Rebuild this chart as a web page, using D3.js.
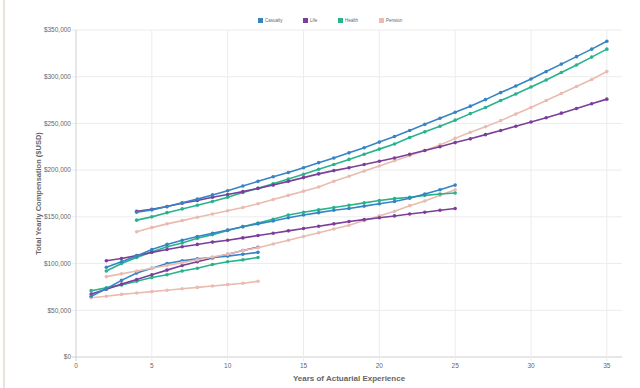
<!DOCTYPE html>
<html lang="en">
<head>
  <meta charset="UTF-8">
  <title>Total Yearly Compensation by Experience</title>
  <script src="https://d3js.org/d3.v7.min.js"></script>
  <style>
      body {
          margin: 0;
          padding: 0;
          background: #fff;
          font-family: 'Liberation Sans', Arial, sans-serif;
          overflow: hidden;
      }
      svg { display: block; }
  </style>
</head>
<body>
  <svg width="640" height="388"></svg>
  <script>
      // series names and colours
      const seriesNames = ["Casualty", "Life", "Health", "Pension"];
      const seriesColors = ["#3584c5", "#7b3f99", "#27b38c", "#e9bbb1"];

      // three career tracks, each starting at a different year
      const startYears = [1, 2, 4];

      // track A: years 1-12
      const casualtyA = [65, 73, 82, 90, 95, 100, 103, 105, 106.5, 108, 110, 112];
      const lifeA     = [67.5, 72.5, 78, 83, 88, 93, 98, 102, 106, 110, 114, 117.5];
      const healthA   = [71, 74, 77, 81, 85, 88, 92, 95, 99, 102, 104, 106.5];
      const pensionA  = [63.5, 65, 67, 68.5, 70, 71.5, 73, 74.5, 76, 77.5, 79, 81];

      // track B: years 2-25
      const casualtyB = [96, 102, 108, 115, 120.5, 125, 129, 132.5, 136, 139.5, 142.5, 145.5,
                         149, 152, 154.5, 157, 159, 161.5, 164, 166.5, 170, 174.5, 179, 184];
      const lifeB     = [103, 105.5, 108.5, 112, 115, 118, 120.5, 123, 125, 127.5, 130, 132.5,
                         135, 137.5, 140, 142.5, 145, 147, 149, 151, 153, 155, 157, 159];
      const healthB   = [92, 100, 106.5, 112.5, 118, 122, 127, 131, 135.5, 139.5, 143.5, 147.5,
                         152, 155, 157.5, 160, 162.5, 165, 167.5, 169.5, 171, 173, 174.5, 175.5];
      const pensionB  = [86, 89, 92, 95, 98, 101, 104, 107, 110, 114, 117, 121,
                         125, 129, 133, 137, 141, 146, 151, 156, 162, 167, 173, 179];

      // track C: years 4-35
      const casualtyC = [155, 157.5, 161, 165, 169, 173.5, 178, 183, 188, 193, 197.5, 202.5,
                         208, 213, 218.5, 224, 230, 236, 242.5, 249, 255.5, 262, 268.5, 275.5,
                         283, 290, 297.5, 305.5, 313.5, 321.5, 329.5, 338];
      const lifeC     = [156, 158, 161, 164.5, 167.5, 171, 174, 177, 180.5, 184, 188, 192,
                         196, 199.5, 202.5, 206, 209.5, 213, 217, 221, 225, 229.5, 233.5, 238,
                         242.5, 247, 251.5, 256, 261, 266, 271, 276];
      const healthC   = [146.5, 150, 154.5, 158.5, 162.5, 166.5, 171, 176, 180.5, 185.5, 190.5, 195.5,
                         201, 206, 211.5, 217, 222.5, 228, 235, 241, 247, 253.5, 260.5, 267,
                         274.5, 281.5, 289, 296.5, 304.5, 312.5, 321, 329.5];
      const pensionC  = [134, 138.5, 142.5, 146, 149.5, 153, 156.5, 160, 164, 168.5, 173, 177.5,
                         182, 188, 193.5, 199, 204.5, 210, 215.5, 221, 227, 234, 240.5, 246.5,
                         253, 260, 267, 274.5, 282, 289.5, 297, 305.5];

      const xTicks = [0, 5, 10, 15, 20, 25, 30, 35];
      const yTicks = [0, 50000, 100000, 150000, 200000, 250000, 300000, 350000];

      const tracks = [
          [casualtyA, lifeA, healthA, pensionA],
          [casualtyB, lifeB, healthB, pensionB],
          [casualtyC, lifeC, healthC, pensionC]
      ];

      const svg = d3.select("svg");
      const margin = { left: 76, right: 18, top: 30, bottom: 31 };
      const width = 640, height = 388;

      const x = d3.scaleLinear().domain([0, 36]).range([margin.left, width - margin.right]);
      const y = d3.scaleLinear().domain([0, 350000]).range([height - margin.bottom, margin.top]);

      // thin frame line on the left edge
      svg.append("rect")
          .attr("x", 3).attr("y", 0)
          .attr("width", 2).attr("height", height)
          .attr("fill", "#e9e3dc");

      // grid
      svg.append("g")
          .selectAll("line")
          .data(yTicks)
          .enter().append("line")
          .attr("x1", margin.left - 4).attr("x2", width - margin.right)
          .attr("y1", d => y(d)).attr("y2", d => y(d))
          .attr("stroke", d => d === 0 ? "#cfcfcf" : "#ececec")
          .attr("stroke-width", 1);

      svg.append("g")
          .selectAll("line")
          .data(xTicks)
          .enter().append("line")
          .attr("x1", d => x(d)).attr("x2", d => x(d))
          .attr("y1", margin.top).attr("y2", height - margin.bottom + 4)
          .attr("stroke", d => d === 0 ? "#cfcfcf" : "#ececec")
          .attr("stroke-width", 1);

      // tick labels
      svg.append("g")
          .selectAll("text")
          .data(yTicks)
          .enter().append("text")
          .attr("x", margin.left - 5)
          .attr("y", d => y(d))
          .attr("dy", "0.35em")
          .attr("text-anchor", "end")
          .attr("font-size", "6.5px")
          .attr("fill", "#666")
          .text(d => d3.format("$,")(d));

      svg.append("g")
          .selectAll("text")
          .data(xTicks)
          .enter().append("text")
          .attr("x", d => x(d))
          .attr("y", height - margin.bottom + 11)
          .attr("text-anchor", "middle")
          .attr("font-size", "6.5px")
          .attr("fill", "#666")
          .text(d => d);

      // axis titles
      svg.append("text")
          .attr("transform", `translate(38, ${(margin.top + height - margin.bottom) / 2}) rotate(-90)`)
          .attr("text-anchor", "middle")
          .attr("dy", "0.35em")
          .attr("font-size", "7.5px")
          .attr("font-weight", "bold")
          .attr("fill", "#666")
          .text("Total Yearly Compensation ($USD)");

      svg.append("text")
          .attr("x", (margin.left + width - margin.right) / 2)
          .attr("y", 381)
          .attr("text-anchor", "middle")
          .attr("font-size", "8px")
          .attr("font-weight", "bold")
          .attr("fill", "#666")
          .text("Years of Actuarial Experience");

      // lines and points
      const line = d3.line().x(d => x(d.year)).y(d => y(d.value));
      const plot = svg.append("g");

      tracks.forEach((track, t) => {
          // draw in reverse so Casualty ends up on top
          for (let s = track.length - 1; s >= 0; s--) {
              const pts = track[s].map((v, i) => ({ year: startYears[t] + i, value: v * 1000 }));
              const g = plot.append("g");
              g.append("path")
                  .datum(pts)
                  .attr("d", line)
                  .attr("fill", "none")
                  .attr("stroke", seriesColors[s])
                  .attr("stroke-width", 1.6);
              g.selectAll("circle")
                  .data(pts)
                  .enter().append("circle")
                  .attr("cx", d => x(d.year))
                  .attr("cy", d => y(d.value))
                  .attr("r", 1.8)
                  .attr("fill", seriesColors[s]);
          }
      });

      // legend
      const legendX = [258, 303, 338, 379];
      const legend = svg.append("g");
      seriesNames.forEach((name, i) => {
          legend.append("rect")
              .attr("x", legendX[i]).attr("y", 18)
              .attr("width", 5).attr("height", 5)
              .attr("fill", seriesColors[i]);
          legend.append("text")
              .attr("x", legendX[i] + 7).attr("y", 20.5)
              .attr("dy", "0.35em")
              .attr("font-size", "4.5px")
              .attr("fill", "#666")
              .text(name);
      });
  </script>
</body>
</html>
